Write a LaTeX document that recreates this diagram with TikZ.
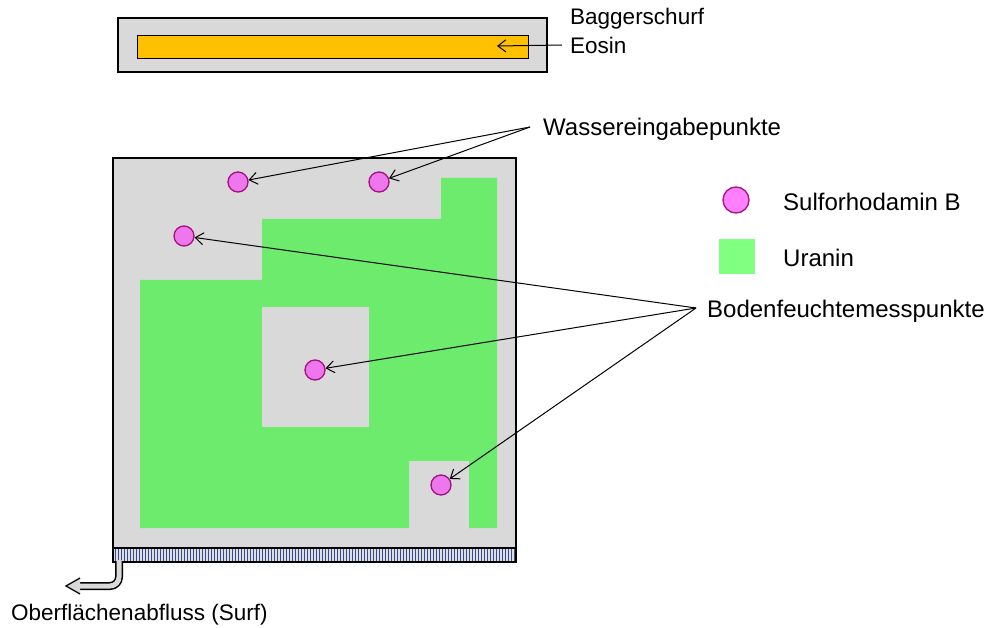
\documentclass[tikz,border=0pt]{standalone}
\usepackage{fontspec}
\setmainfont{Liberation Sans}
\usetikzlibrary{arrows.meta}
\definecolor{soil}{HTML}{D9D9D9}
\definecolor{eosin}{HTML}{FFC000}
\definecolor{uranin}{HTML}{6CEB6C}
\definecolor{uraninkey}{HTML}{80FF80}
\definecolor{srbfill}{HTML}{EE77EE}
\definecolor{srbkey}{HTML}{FF80FF}
\definecolor{srbline}{HTML}{A0107F}
\definecolor{hatchbg}{HTML}{D8DEEC}
\definecolor{hatchln}{HTML}{3C4A7C}
\tikzset{
  x=1pt, y=-1pt,
  lbl/.style={font=\fontsize{24}{26}\selectfont, anchor=west, inner sep=0pt},
  lblsmall/.style={font=\fontsize{22.5}{25}\selectfont, anchor=west, inner sep=0pt},
  probe/.style={circle, draw=srbline, line width=1.3pt, fill=srbfill, minimum size=20pt, inner sep=0pt},
  pointer/.style={-{Straight Barb[length=8pt,width=12pt]}, line width=1pt},
}
\begin{document}
\begin{tikzpicture}
\useasboundingbox (0,0) rectangle (989,628);

% excavation trench with eosin
\draw[fill=soil, line width=1.3pt] (118,18) rectangle (547,72);
\draw[fill=eosin, line width=0.9pt] (137,35) rectangle (528,58);
\node[lblsmall] (bagger) at (570,19) {Baggerschurf};
\node[lblsmall] (eosin) at (570,45) {Eosin};
\coordinate (eosinend) at (497,46);
\draw[pointer] (eosin.west) ++(-8,0) coordinate (eosinstart) -- (eosinend);

% plot
\fill[soil] (113,158) rectangle (516,548);
\fill[uranin] (441,178) -- (497,178) -- (497,528) -- (469,528) -- (469,461)
  -- (409,461) -- (409,528) -- (140,528) -- (140,280) -- (262,280)
  -- (262,219) -- (441,219) -- cycle;
\fill[soil] (262,307) rectangle (369,427);
\draw[line width=2pt] (113,548) -- (113,158) -- (516,158) -- (516,548);

% collecting gutter
\fill[hatchbg] (113,548) rectangle (516,562);
\foreach \i in {115,118,...,514} \draw[hatchln, line width=0.8pt] (\i,549) -- (\i,561);
\draw[line width=1.2pt] (113,548) rectangle (516,562);

% surface runoff outlet
\draw[line width=8pt] (119,561) -- (119,577) arc[start angle=0, end angle=90, radius=9] -- (80,586);
\draw[soil, line width=5pt] (119,560) -- (119,577) arc[start angle=0, end angle=90, radius=9] -- (79,586);
\draw[fill=soil, line width=1.3pt, line join=miter] (80,578) -- (66,586) -- (80,594);
\node[lblsmall] (surf) at (11,615) {Oberflächenabfluss (Surf)};

% measuring points
\node[probe] (p1) at (238,182) {};
\node[probe] (p2) at (379,182) {};
\node[probe] (p3) at (184,236) {};
\node[probe] (p4) at (315,370) {};
\node[probe] (p5) at (441,485) {};

% labels with pointers
\node[lbl] (wasser) at (543,129) {Wassereingabepunkte};
\node[lbl] (boden) at (707,311) {Bodenfeuchtemesspunkte};
\coordinate (w0) at (530,127);
\coordinate (b0) at (696,308);
\draw[pointer] (w0) -- (p1);
\draw[pointer] (w0) -- (p2);
\draw[pointer] (b0) -- (p3);
\draw[pointer] (b0) -- (p4);
\draw[pointer] (b0) -- (p5);

% legend
\node[circle, draw=srbline, line width=1.3pt, fill=srbkey, minimum size=26pt, inner sep=0pt] (keysrb) at (736,200) {};
\node[lbl] (srb) at (783,202) {Sulforhodamin B};
\node[fill=uraninkey, minimum width=36pt, minimum height=35pt, inner sep=0pt] (keyura) at (737,257) {};
\node[lbl] (ura) at (783,258) {Uranin};
\end{tikzpicture}
\end{document}
